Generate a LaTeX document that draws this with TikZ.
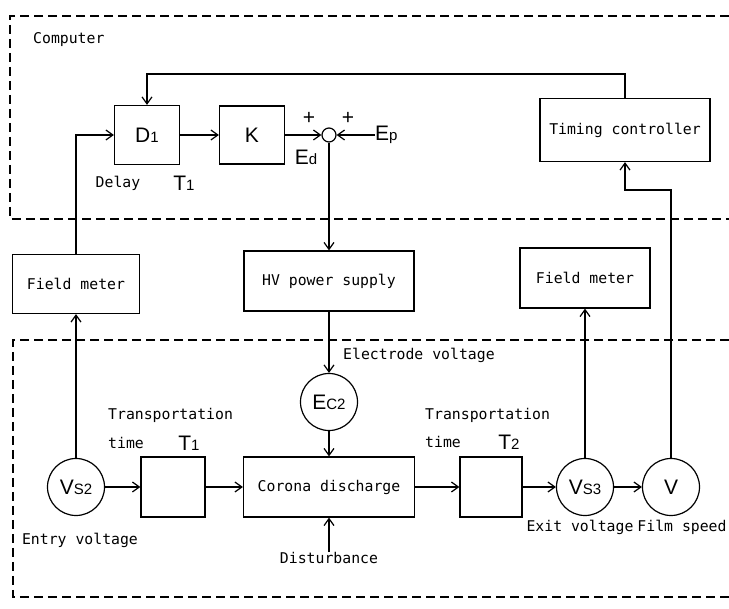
\documentclass[tikz,border=0pt]{standalone}
\usepackage{fontspec}
\setmainfont{Liberation Sans}
\setsansfont{Liberation Sans}
\setmonofont{DejaVu Sans Mono}
\usetikzlibrary{arrows.meta}
\newcommand{\lsub}[2]{#1{\fontsize{15}{15}\selectfont #2}}

\begin{document}
\begin{tikzpicture}[x=1pt,y=-1pt,
  blk/.style={draw,line width=1.2pt,inner sep=0pt},
  circ/.style={draw,circle,line width=1.2pt,minimum size=57pt,inner sep=0pt},
  mono/.style={font=\ttfamily\fontsize{14.8}{17}\selectfont,inner sep=0pt},
  glyph/.style={font=\sffamily\fontsize{21}{24}\selectfont,inner sep=0pt},
  wire/.style={line width=1.2pt},
  arr/.style={wire,-{Straight Barb[length=7pt,width=10pt]}},
  region/.style={line width=1.2pt,dash pattern=on 9pt off 5pt}]
\useasboundingbox (0,0) rectangle (729,609);
% dashed regions
\draw[region] (729,16) -- (10,16) -- (10,219) -- (729,219);
\draw[region] (729,340) -- (13,340) -- (13,597) -- (729,597);
% computer part
\node[mono,anchor=west] (comp) at (33,40) {Computer};
\node[blk,glyph,minimum width=65pt,minimum height=59pt] (d1) at (147,135) {\lsub{D}{1}};
\node[blk,glyph,minimum width=65pt,minimum height=58pt] (k) at (252,135) {K};
\node[draw,circle,line width=1.2pt,minimum size=14pt,inner sep=0pt] (sum) at (329,135) {};
\node[glyph] (plusa) at (309,118) {+};
\node[glyph] (plusb) at (348,118) {+};
\node[glyph,anchor=west] (ep) at (375,135) {\lsub{E}{p}};
\node[glyph] (ed) at (306,157) {\lsub{E}{d}};
\node[mono] (delay) at (118,183) {Delay};
\node[glyph] (tdelay) at (184,183) {\lsub{T}{1}};
\node[blk,mono,minimum width=170pt,minimum height=63pt] (timing) at (625,130) {Timing controller};
% middle row
\node[blk,mono,minimum width=127pt,minimum height=59pt] (fm1) at (76,284) {Field meter};
\node[blk,mono,minimum width=170pt,minimum height=60pt] (hv) at (329,281) {HV power supply};
\node[blk,mono,minimum width=130pt,minimum height=60pt] (fm2) at (585,278) {Field meter};
% process part
\node[mono,anchor=west] (elv) at (343,355) {Electrode voltage};
\node[circ,glyph] (ec) at (329,402) {\lsub{E}{C2}};
\node[blk,mono,minimum width=171pt,minimum height=60pt] (corona) at (329,487) {Corona discharge};
\node[mono] (dist) at (329,558) {Disturbance};
\node[circ,glyph] (vs2) at (76,487) {\lsub{V}{S2}};
\node[blk,minimum width=64pt,minimum height=60pt] (tr1) at (173,487) {};
\node[mono,anchor=west] (trlbl1) at (108,415) {Transportation};
\node[mono,anchor=west] (trtime1) at (108,443) {time};
\node[glyph] (trt1) at (189,443) {\lsub{T}{1}};
\node[mono] (entry) at (80,540) {Entry voltage};
\node[blk,minimum width=62pt,minimum height=60pt] (tr2) at (491,487) {};
\node[mono,anchor=west] (trlbl2) at (425,415) {Transportation};
\node[mono,anchor=west] (trtime2) at (425,442) {time};
\node[glyph] (trt2) at (509,442) {\lsub{T}{2}};
\node[circ,glyph] (vs3) at (585,487) {\lsub{V}{S3}};
\node[circ,glyph] (film) at (671,487) {V};
\node[mono] (exit) at (580,527) {Exit voltage};
\node[mono] (fspd) at (682,527) {Film speed};
% connectors
\coordinate (fbk) at (625,74);
\coordinate (jog) at (671,190);
\draw[arr] (timing.north) -- (fbk) -| (d1.north);
\draw[arr] (fm1.north) |- (d1.west);
\draw[arr] (d1) -- (k);
\draw[arr] (k) -- (sum);
\draw[arr] (ep) -- (sum);
\draw[arr] (sum) -- (hv);
\draw[arr] (hv) -- (ec);
\draw[arr] (ec) -- (corona);
\draw[arr] (dist) -- (corona);
\draw[arr] (vs2) -- (fm1);
\draw[arr] (vs2) -- (tr1);
\draw[arr] (tr1) -- (corona);
\draw[arr] (corona) -- (tr2);
\draw[arr] (tr2) -- (vs3);
\draw[arr] (vs3) -- (film);
\draw[arr] (vs3) -- (fm2);
\draw[arr] (film.north) -- (jog) -| (timing.south);
\end{tikzpicture}
\end{document}
